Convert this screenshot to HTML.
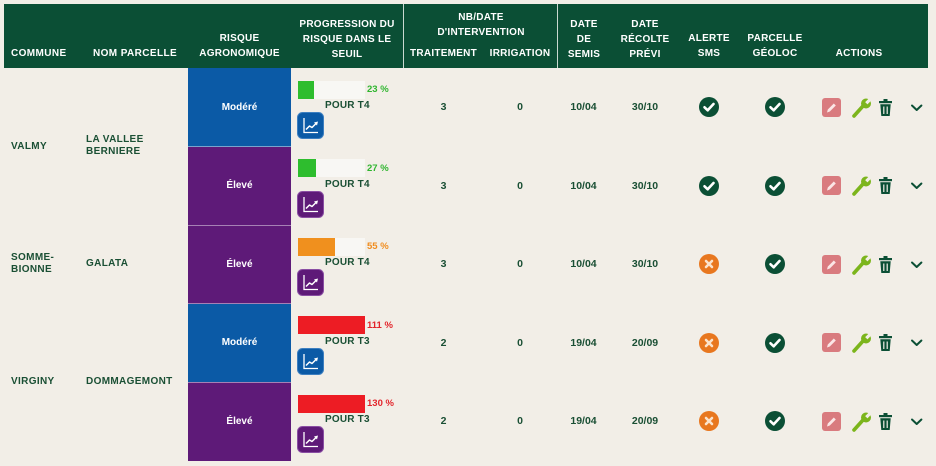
<!DOCTYPE html>
<html><head><meta charset="utf-8">
<style>
*{margin:0;padding:0;box-sizing:border-box}
body{width:936px;height:466px;background:#f2eee7;overflow:hidden;font-family:"Liberation Sans",sans-serif}
#w{position:relative;width:936px;height:466px;background:#f2eee7}
.a{position:absolute;white-space:nowrap}
.h{position:absolute;color:#fff;font-weight:bold;font-size:10px;line-height:15px;letter-spacing:0.25px;white-space:nowrap;text-align:center}
.n{position:absolute;color:#1a4f34;font-weight:bold;font-size:10px;line-height:12.5px;letter-spacing:0.35px;white-space:nowrap}
.d{position:absolute;color:#1a4f34;font-weight:bold;font-size:10.5px;line-height:14px;width:60px;text-align:center;white-space:nowrap}
.r{position:absolute;left:188px;width:103px;height:78.5px;color:#fff;font-weight:bold;font-size:10px;display:flex;align-items:center;justify-content:center}
.bl{background:#0b5aa6}.pu{background:#5e1a78}
.sep{position:absolute;left:188px;width:103px;height:1px;background:rgba(255,255,255,0.45)}
.bb{position:absolute;left:298px;width:67px;height:18px;background:#f8f7f4}
.bf{position:absolute;left:0;top:0;height:18px}
.pc{position:absolute;left:367px;font-weight:bold;font-size:9.5px;line-height:12px;white-space:nowrap}
.pr{position:absolute;left:325px;color:#1a4f34;font-weight:bold;font-size:10px;line-height:12px;white-space:nowrap;letter-spacing:0.2px}
.ci{position:absolute;left:297px;width:27px;height:27px}
.ic{position:absolute}
</style></head><body><div id="w">

<!-- header -->
<div class="a" style="left:4px;top:4px;width:924px;height:64px;background:#0b4f35"></div>
<div class="a" style="left:403px;top:4px;width:1px;height:64px;background:#c9d9d0"></div>
<div class="a" style="left:557px;top:4px;width:1px;height:64px;background:#c9d9d0"></div>

<div class="h" style="left:11px;top:46px;text-align:left;letter-spacing:0.4px">COMMUNE</div>
<div class="h" style="left:93px;top:46px;text-align:left;letter-spacing:0.4px">NOM PARCELLE</div>
<div class="h" style="left:179.5px;top:31px;width:120px">RISQUE<br>AGRONOMIQUE</div>
<div class="h" style="left:287px;top:16.5px;width:120px">PROGRESSION DU<br>RISQUE DANS LE<br>SEUIL</div>
<div class="h" style="left:421px;top:10px;width:120px">NB/DATE<br>D'INTERVENTION</div>
<div class="h" style="left:403.5px;top:46px;width:80px">TRAITEMENT</div>
<div class="h" style="left:480px;top:46px;width:80px">IRRIGATION</div>
<div class="h" style="left:544px;top:16.5px;width:80px">DATE<br>DE<br>SEMIS</div>
<div class="h" style="left:605px;top:16.5px;width:80px">DATE<br>RÉCOLTE<br>PRÉVI</div>
<div class="h" style="left:669px;top:31px;width:80px">ALERTE<br>SMS</div>
<div class="h" style="left:735px;top:31px;width:80px">PARCELLE<br>GÉOLOC</div>
<div class="h" style="left:819px;top:46px;width:80px">ACTIONS</div>

<!-- left columns -->
<div class="n" style="left:11px;top:140.5px">VALMY</div>
<div class="n" style="left:86px;top:133.5px">LA VALLEE<br>BERNIERE</div>
<div class="n" style="left:11px;top:251.5px">SOMME-<br>BIONNE</div>
<div class="n" style="left:86px;top:258px">GALATA</div>
<div class="n" style="left:11px;top:375.5px">VIRGINY</div>
<div class="n" style="left:86px;top:375.5px">DOMMAGEMONT</div>

<!-- risk cells -->
<div class="r bl" style="top:68px">Modéré</div>
<div class="r pu" style="top:146.5px">Élevé</div>
<div class="r pu" style="top:225px">Élevé</div>
<div class="r bl" style="top:303.5px">Modéré</div>
<div class="r pu" style="top:382px">Élevé</div>
<div class="sep" style="top:146px"></div>
<div class="sep" style="top:225px"></div>
<div class="sep" style="top:303px"></div>
<div class="sep" style="top:382px"></div>

<!-- progress bars -->
<div class="bb" style="top:80.5px"><div class="bf" style="width:16px;background:#2ebd2e"></div></div>
<div class="pc" style="top:84px;color:#2fb52f">23 %</div>
<div class="pr" style="top:100px">POUR T4</div>

<div class="bb" style="top:159px"><div class="bf" style="width:18px;background:#2ebd2e"></div></div>
<div class="pc" style="top:162.5px;color:#2fb52f">27 %</div>
<div class="pr" style="top:178.5px">POUR T4</div>

<div class="bb" style="top:237.5px"><div class="bf" style="width:37px;background:#f0901e"></div></div>
<div class="pc" style="top:241px;color:#f08c1e">55 %</div>
<div class="pr" style="top:257px">POUR T4</div>

<div class="bb" style="top:316px"><div class="bf" style="width:67px;background:#ed1c24"></div></div>
<div class="pc" style="top:319.5px;color:#e3242b">111 %</div>
<div class="pr" style="top:335.5px">POUR T3</div>

<div class="bb" style="top:394.5px"><div class="bf" style="width:67px;background:#ed1c24"></div></div>
<div class="pc" style="top:398px;color:#e3242b">130 %</div>
<div class="pr" style="top:414px">POUR T3</div>

<!-- chart icons -->
<svg class="ci" style="top:112px" viewBox="0 0 27 27"><rect x="0.5" y="0.5" width="26" height="26" rx="5" fill="#0b5aa6" stroke="#3d7fc0"/><path d="M7 6V20.5H21" stroke="#fff" stroke-width="1.3" fill="none"/><polyline points="9,17.5 12.5,14 15,15.5 19,11.5" stroke="#fff" stroke-width="1.5" fill="none" stroke-linejoin="round"/><polygon points="21,9.5 17,10.5 20,13.5" fill="#fff"/></svg>
<svg class="ci" style="top:190.5px" viewBox="0 0 27 27"><rect x="0.5" y="0.5" width="26" height="26" rx="5" fill="#5e1a78" stroke="#8a4ea3"/><path d="M7 6V20.5H21" stroke="#fff" stroke-width="1.3" fill="none"/><polyline points="9,17.5 12.5,14 15,15.5 19,11.5" stroke="#fff" stroke-width="1.5" fill="none" stroke-linejoin="round"/><polygon points="21,9.5 17,10.5 20,13.5" fill="#fff"/></svg>
<svg class="ci" style="top:269px" viewBox="0 0 27 27"><rect x="0.5" y="0.5" width="26" height="26" rx="5" fill="#5e1a78" stroke="#8a4ea3"/><path d="M7 6V20.5H21" stroke="#fff" stroke-width="1.3" fill="none"/><polyline points="9,17.5 12.5,14 15,15.5 19,11.5" stroke="#fff" stroke-width="1.5" fill="none" stroke-linejoin="round"/><polygon points="21,9.5 17,10.5 20,13.5" fill="#fff"/></svg>
<svg class="ci" style="top:347.5px" viewBox="0 0 27 27"><rect x="0.5" y="0.5" width="26" height="26" rx="5" fill="#0b5aa6" stroke="#3d7fc0"/><path d="M7 6V20.5H21" stroke="#fff" stroke-width="1.3" fill="none"/><polyline points="9,17.5 12.5,14 15,15.5 19,11.5" stroke="#fff" stroke-width="1.5" fill="none" stroke-linejoin="round"/><polygon points="21,9.5 17,10.5 20,13.5" fill="#fff"/></svg>
<svg class="ci" style="top:426px" viewBox="0 0 27 27"><rect x="0.5" y="0.5" width="26" height="26" rx="5" fill="#5e1a78" stroke="#8a4ea3"/><path d="M7 6V20.5H21" stroke="#fff" stroke-width="1.3" fill="none"/><polyline points="9,17.5 12.5,14 15,15.5 19,11.5" stroke="#fff" stroke-width="1.5" fill="none" stroke-linejoin="round"/><polygon points="21,9.5 17,10.5 20,13.5" fill="#fff"/></svg>

<!-- data columns -->
<div class="d" style="left:413.5px;top:100px">3</div><div class="d" style="left:490px;top:100px">0</div><div class="d" style="left:553.5px;top:100px">10/04</div><div class="d" style="left:615px;top:100px">30/10</div>
<div class="d" style="left:413.5px;top:178.5px">3</div><div class="d" style="left:490px;top:178.5px">0</div><div class="d" style="left:553.5px;top:178.5px">10/04</div><div class="d" style="left:615px;top:178.5px">30/10</div>
<div class="d" style="left:413.5px;top:257px">3</div><div class="d" style="left:490px;top:257px">0</div><div class="d" style="left:553.5px;top:257px">10/04</div><div class="d" style="left:615px;top:257px">30/10</div>
<div class="d" style="left:413.5px;top:335.5px">2</div><div class="d" style="left:490px;top:335.5px">0</div><div class="d" style="left:553.5px;top:335.5px">19/04</div><div class="d" style="left:615px;top:335.5px">20/09</div>
<div class="d" style="left:413.5px;top:414px">2</div><div class="d" style="left:490px;top:414px">0</div><div class="d" style="left:553.5px;top:414px">19/04</div><div class="d" style="left:615px;top:414px">20/09</div>

<!-- icons rows: centers y = 106.8, 185.3, 263.8, 342.3, 420.8 -->
<!-- row1 -->
<svg class="ic" style="left:699px;top:97px" width="20" height="20" viewBox="0 0 20 20"><circle cx="10" cy="10" r="10" fill="#0b4f35"/><path d="M5.5 10.3L8.7 13.3L14.5 7" stroke="#fff" stroke-width="2.6" fill="none" stroke-linecap="round" stroke-linejoin="round"/></svg>
<svg class="ic" style="left:764.5px;top:97px" width="20" height="20" viewBox="0 0 20 20"><circle cx="10" cy="10" r="10" fill="#0b4f35"/><path d="M5.5 10.3L8.7 13.3L14.5 7" stroke="#fff" stroke-width="2.6" fill="none" stroke-linecap="round" stroke-linejoin="round"/></svg>
<!-- row2 -->
<svg class="ic" style="left:699px;top:175.5px" width="20" height="20" viewBox="0 0 20 20"><circle cx="10" cy="10" r="10" fill="#0b4f35"/><path d="M5.5 10.3L8.7 13.3L14.5 7" stroke="#fff" stroke-width="2.6" fill="none" stroke-linecap="round" stroke-linejoin="round"/></svg>
<svg class="ic" style="left:764.5px;top:175.5px" width="20" height="20" viewBox="0 0 20 20"><circle cx="10" cy="10" r="10" fill="#0b4f35"/><path d="M5.5 10.3L8.7 13.3L14.5 7" stroke="#fff" stroke-width="2.6" fill="none" stroke-linecap="round" stroke-linejoin="round"/></svg>
<!-- row3 -->
<svg class="ic" style="left:699px;top:254px" width="20" height="20" viewBox="0 0 20 20"><circle cx="10" cy="10" r="10" fill="#e8771f"/><path d="M7 7L13 13M13 7L7 13" stroke="#fbe3cc" stroke-width="2.6" stroke-linecap="round"/></svg>
<svg class="ic" style="left:764.5px;top:254px" width="20" height="20" viewBox="0 0 20 20"><circle cx="10" cy="10" r="10" fill="#0b4f35"/><path d="M5.5 10.3L8.7 13.3L14.5 7" stroke="#fff" stroke-width="2.6" fill="none" stroke-linecap="round" stroke-linejoin="round"/></svg>
<!-- row4 -->
<svg class="ic" style="left:699px;top:332.5px" width="20" height="20" viewBox="0 0 20 20"><circle cx="10" cy="10" r="10" fill="#e8771f"/><path d="M7 7L13 13M13 7L7 13" stroke="#fbe3cc" stroke-width="2.6" stroke-linecap="round"/></svg>
<svg class="ic" style="left:764.5px;top:332.5px" width="20" height="20" viewBox="0 0 20 20"><circle cx="10" cy="10" r="10" fill="#0b4f35"/><path d="M5.5 10.3L8.7 13.3L14.5 7" stroke="#fff" stroke-width="2.6" fill="none" stroke-linecap="round" stroke-linejoin="round"/></svg>
<!-- row5 -->
<svg class="ic" style="left:699px;top:411px" width="20" height="20" viewBox="0 0 20 20"><circle cx="10" cy="10" r="10" fill="#e8771f"/><path d="M7 7L13 13M13 7L7 13" stroke="#fbe3cc" stroke-width="2.6" stroke-linecap="round"/></svg>
<svg class="ic" style="left:764.5px;top:411px" width="20" height="20" viewBox="0 0 20 20"><circle cx="10" cy="10" r="10" fill="#0b4f35"/><path d="M5.5 10.3L8.7 13.3L14.5 7" stroke="#fff" stroke-width="2.6" fill="none" stroke-linecap="round" stroke-linejoin="round"/></svg>

<!-- action icons, repeated per row -->
<svg class="ic" style="left:815px;top:95.5px" width="112" height="23" viewBox="0 0 112 23">
<g transform="translate(7,2)"><rect width="19" height="19" rx="3" fill="#d97b7f"/><path d="M5 14.5L5.8 11.5L11.8 5.5L13.8 7.5L7.8 13.5Z" fill="#fbe6e6"/></g>
<g transform="translate(36,1)"><line x1="3" y1="19" x2="12" y2="9" stroke="#7cb51c" stroke-width="3.6" stroke-linecap="round"/><circle cx="15" cy="6.5" r="5" fill="#7cb51c"/><line x1="15.3" y1="6.2" x2="21" y2="0.5" stroke="#f2eee7" stroke-width="3.2"/></g>
<g transform="translate(63.5,3)"><rect x="5" y="0" width="4" height="2.5" fill="#0b4f35"/><rect x="0.5" y="2" width="13" height="2.2" fill="#0b4f35"/><path d="M1.8 5.3H12.2L11.2 17H2.8Z" fill="#0b4f35"/><line x1="5.3" y1="7.5" x2="5.3" y2="15" stroke="#f2eee7" stroke-width="1.2"/><line x1="8.7" y1="7.5" x2="8.7" y2="15" stroke="#f2eee7" stroke-width="1.2"/></g>
<polyline points="97,9.5 101.7,14 106.4,9.5" stroke="#0b4f35" stroke-width="2" fill="none" stroke-linecap="round" stroke-linejoin="round"/>
</svg>
<svg class="ic" style="left:815px;top:174px" width="112" height="23" viewBox="0 0 112 23">
<g transform="translate(7,2)"><rect width="19" height="19" rx="3" fill="#d97b7f"/><path d="M5 14.5L5.8 11.5L11.8 5.5L13.8 7.5L7.8 13.5Z" fill="#fbe6e6"/></g>
<g transform="translate(36,1)"><line x1="3" y1="19" x2="12" y2="9" stroke="#7cb51c" stroke-width="3.6" stroke-linecap="round"/><circle cx="15" cy="6.5" r="5" fill="#7cb51c"/><line x1="15.3" y1="6.2" x2="21" y2="0.5" stroke="#f2eee7" stroke-width="3.2"/></g>
<g transform="translate(63.5,3)"><rect x="5" y="0" width="4" height="2.5" fill="#0b4f35"/><rect x="0.5" y="2" width="13" height="2.2" fill="#0b4f35"/><path d="M1.8 5.3H12.2L11.2 17H2.8Z" fill="#0b4f35"/><line x1="5.3" y1="7.5" x2="5.3" y2="15" stroke="#f2eee7" stroke-width="1.2"/><line x1="8.7" y1="7.5" x2="8.7" y2="15" stroke="#f2eee7" stroke-width="1.2"/></g>
<polyline points="97,9.5 101.7,14 106.4,9.5" stroke="#0b4f35" stroke-width="2" fill="none" stroke-linecap="round" stroke-linejoin="round"/>
</svg>
<svg class="ic" style="left:815px;top:252.5px" width="112" height="23" viewBox="0 0 112 23">
<g transform="translate(7,2)"><rect width="19" height="19" rx="3" fill="#d97b7f"/><path d="M5 14.5L5.8 11.5L11.8 5.5L13.8 7.5L7.8 13.5Z" fill="#fbe6e6"/></g>
<g transform="translate(36,1)"><line x1="3" y1="19" x2="12" y2="9" stroke="#7cb51c" stroke-width="3.6" stroke-linecap="round"/><circle cx="15" cy="6.5" r="5" fill="#7cb51c"/><line x1="15.3" y1="6.2" x2="21" y2="0.5" stroke="#f2eee7" stroke-width="3.2"/></g>
<g transform="translate(63.5,3)"><rect x="5" y="0" width="4" height="2.5" fill="#0b4f35"/><rect x="0.5" y="2" width="13" height="2.2" fill="#0b4f35"/><path d="M1.8 5.3H12.2L11.2 17H2.8Z" fill="#0b4f35"/><line x1="5.3" y1="7.5" x2="5.3" y2="15" stroke="#f2eee7" stroke-width="1.2"/><line x1="8.7" y1="7.5" x2="8.7" y2="15" stroke="#f2eee7" stroke-width="1.2"/></g>
<polyline points="97,9.5 101.7,14 106.4,9.5" stroke="#0b4f35" stroke-width="2" fill="none" stroke-linecap="round" stroke-linejoin="round"/>
</svg>
<svg class="ic" style="left:815px;top:331px" width="112" height="23" viewBox="0 0 112 23">
<g transform="translate(7,2)"><rect width="19" height="19" rx="3" fill="#d97b7f"/><path d="M5 14.5L5.8 11.5L11.8 5.5L13.8 7.5L7.8 13.5Z" fill="#fbe6e6"/></g>
<g transform="translate(36,1)"><line x1="3" y1="19" x2="12" y2="9" stroke="#7cb51c" stroke-width="3.6" stroke-linecap="round"/><circle cx="15" cy="6.5" r="5" fill="#7cb51c"/><line x1="15.3" y1="6.2" x2="21" y2="0.5" stroke="#f2eee7" stroke-width="3.2"/></g>
<g transform="translate(63.5,3)"><rect x="5" y="0" width="4" height="2.5" fill="#0b4f35"/><rect x="0.5" y="2" width="13" height="2.2" fill="#0b4f35"/><path d="M1.8 5.3H12.2L11.2 17H2.8Z" fill="#0b4f35"/><line x1="5.3" y1="7.5" x2="5.3" y2="15" stroke="#f2eee7" stroke-width="1.2"/><line x1="8.7" y1="7.5" x2="8.7" y2="15" stroke="#f2eee7" stroke-width="1.2"/></g>
<polyline points="97,9.5 101.7,14 106.4,9.5" stroke="#0b4f35" stroke-width="2" fill="none" stroke-linecap="round" stroke-linejoin="round"/>
</svg>
<svg class="ic" style="left:815px;top:409.5px" width="112" height="23" viewBox="0 0 112 23">
<g transform="translate(7,2)"><rect width="19" height="19" rx="3" fill="#d97b7f"/><path d="M5 14.5L5.8 11.5L11.8 5.5L13.8 7.5L7.8 13.5Z" fill="#fbe6e6"/></g>
<g transform="translate(36,1)"><line x1="3" y1="19" x2="12" y2="9" stroke="#7cb51c" stroke-width="3.6" stroke-linecap="round"/><circle cx="15" cy="6.5" r="5" fill="#7cb51c"/><line x1="15.3" y1="6.2" x2="21" y2="0.5" stroke="#f2eee7" stroke-width="3.2"/></g>
<g transform="translate(63.5,3)"><rect x="5" y="0" width="4" height="2.5" fill="#0b4f35"/><rect x="0.5" y="2" width="13" height="2.2" fill="#0b4f35"/><path d="M1.8 5.3H12.2L11.2 17H2.8Z" fill="#0b4f35"/><line x1="5.3" y1="7.5" x2="5.3" y2="15" stroke="#f2eee7" stroke-width="1.2"/><line x1="8.7" y1="7.5" x2="8.7" y2="15" stroke="#f2eee7" stroke-width="1.2"/></g>
<polyline points="97,9.5 101.7,14 106.4,9.5" stroke="#0b4f35" stroke-width="2" fill="none" stroke-linecap="round" stroke-linejoin="round"/>
</svg>

</div></body></html>
